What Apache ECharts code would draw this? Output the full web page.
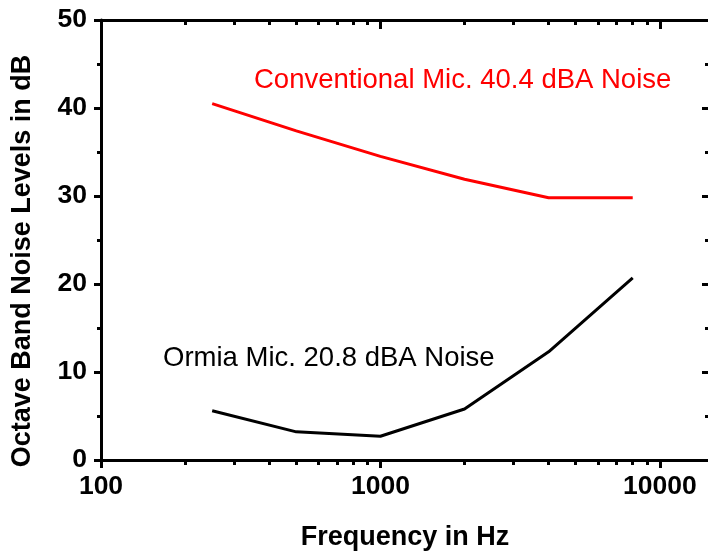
<!DOCTYPE html>
<html>
<head>
<meta charset="utf-8">
<script src="https://cdn.jsdelivr.net/npm/echarts@6/dist/echarts.min.js"></script>
<style>
html,body{margin:0;padding:0;background:#fff;overflow:hidden;}
#c{width:708px;height:552px;}
</style>
</head>
<body>
<div id="c"></div>
<script>
// ---- data ----
const frequencies = [250, 500, 1000, 2000, 4000, 8000];
const conventionalNoise = [40.5, 37.4, 34.5, 31.9, 29.8, 29.8];
const ormiaNoise = [5.6, 3.2, 2.7, 5.8, 12.3, 20.7];
const xMajorTicks = [100, 1000, 10000];
const xMinorTicks = [200, 300, 400, 500, 600, 700, 800, 900, 2000, 3000, 4000, 5000, 6000, 7000, 8000, 9000];
const xTitle = 'Frequency in Hz';
const yTitle = 'Octave Band Noise Levels in dB';
const conventionalLabel = 'Conventional Mic. 40.4 dBA Noise';
const ormiaLabel = 'Ormia Mic. 20.8 dBA Noise';

const FONT = 'Liberation Sans, Arial, sans-serif';
const chart = echarts.init(document.getElementById('c'));
const line = {lineStyle: {color: '#000', width: 3}};
function xAxisBase(pos) {
  return {
    type: 'log', logBase: 10, min: 100, max: 15000, position: pos,
    splitLine: {show: false}, minorSplitLine: {show: false},
  };
}
chart.setOption({
  animation: false,
  grid: {left: 101, top: 20, right: -1, bottom: 92, containLabel: false, outerBoundsMode: 'none'},
  xAxis: [
    Object.assign(xAxisBase('bottom'), {
      axisLine: line,
      axisTick: {show: true, inside: false, length: 8, lineStyle: {width: 3, color: '#000'}, customValues: xMajorTicks},
      axisLabel: {show: true, margin: 13, fontFamily: FONT, fontWeight: 'bold', fontSize: 26.5, color: '#000',
        customValues: xMajorTicks, formatter: v => String(Math.round(v))},
      name: xTitle, nameLocation: 'middle', nameGap: 64,
      nameTextStyle: {fontFamily: FONT, fontWeight: 'bold', fontSize: 27, color: '#000'}
    }),
    Object.assign(xAxisBase('bottom'), {
      axisLine: {show: false},
      axisTick: {show: true, inside: false, length: 5, lineStyle: {width: 3, color: '#000'}, customValues: xMinorTicks},
      axisLabel: {show: false}
    }),
    Object.assign(xAxisBase('top'), {
      axisLine: line,
      axisTick: {show: true, inside: true, length: 9, lineStyle: {width: 3, color: '#000'}, customValues: xMajorTicks},
      axisLabel: {show: false}
    }),
    Object.assign(xAxisBase('top'), {
      axisLine: {show: false},
      axisTick: {show: true, inside: true, length: 5, lineStyle: {width: 3, color: '#000'}, customValues: xMinorTicks},
      axisLabel: {show: false}
    })
  ],
  yAxis: [
    {
      type: 'value', min: 0, max: 50, interval: 10, position: 'left',
      axisLine: line,
      axisTick: {show: true, inside: false, length: 7, lineStyle: {width: 3, color: '#000'}},
      minorTick: {show: true, splitNumber: 2, length: 4, lineStyle: {width: 3, color: '#000'}},
      splitLine: {show: false}, minorSplitLine: {show: false},
      axisLabel: {margin: 14, fontFamily: FONT, fontWeight: 'bold', fontSize: 26.5, color: '#000'}
    },
    {
      type: 'value', min: 0, max: 50, interval: 10, position: 'right',
      axisLine: line,
      axisTick: {show: true, inside: true, length: 7, lineStyle: {width: 3, color: '#000'}},
      minorTick: {show: true, splitNumber: 2, length: 4, lineStyle: {width: 3, color: '#000'}},
      splitLine: {show: false}, minorSplitLine: {show: false},
      axisLabel: {show: false}
    }
  ],
  series: [
    {
      type: 'line', xAxisIndex: 0, yAxisIndex: 0, symbol: 'none',
      data: frequencies.map((f, i) => [f, conventionalNoise[i]]),
      lineStyle: {color: '#ff0000', width: 3}
    },
    {
      type: 'line', xAxisIndex: 0, yAxisIndex: 0, symbol: 'none',
      data: frequencies.map((f, i) => [f, ormiaNoise[i]]),
      lineStyle: {color: '#000000', width: 3}
    }
  ],
  graphic: [
    {type: 'text', x: 254, y: 80, style: {text: conventionalLabel, fill: '#ff0000', font: '27.5px ' + FONT, textAlign: 'left', textVerticalAlign: 'middle'}},
    {type: 'text', x: 163, y: 358, style: {text: ormiaLabel, fill: '#000000', font: '27.5px ' + FONT, textAlign: 'left', textVerticalAlign: 'middle'}},
    {type: 'text', x: 23, y: 261, rotation: Math.PI / 2, style: {text: yTitle, fill: '#000000', font: 'bold 27px ' + FONT, textAlign: 'center', textVerticalAlign: 'middle'}}
  ]
});
</script>
</body>
</html>
